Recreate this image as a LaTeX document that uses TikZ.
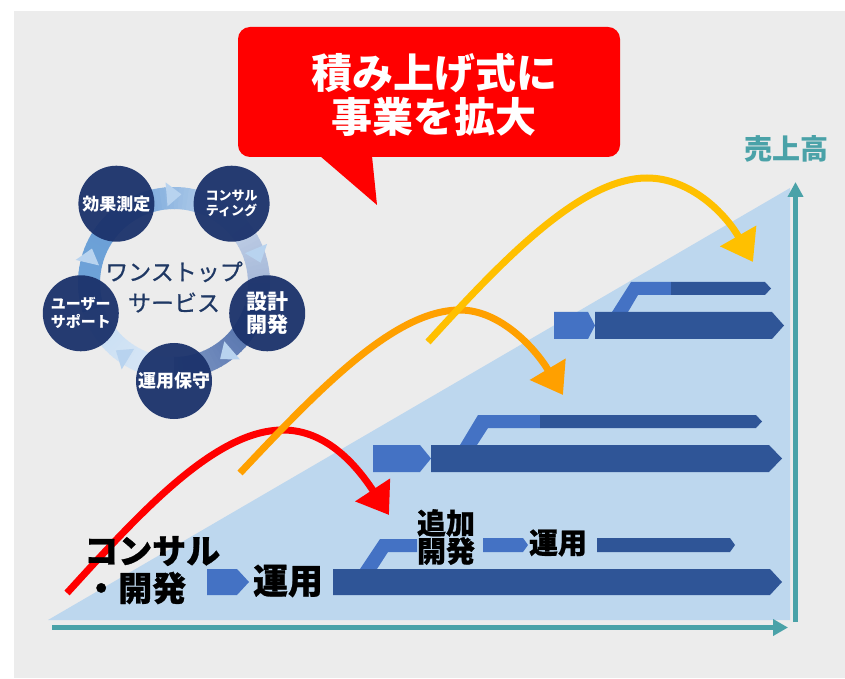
\documentclass[tikz,border=0pt]{standalone}
\usepackage{fontspec}
\setmainfont{Noto Sans CJK JP}
\usetikzlibrary{arrows.meta}
\definecolor{bgc}{HTML}{ECECEC}
\definecolor{tric}{HTML}{BDD7EE}
\definecolor{axisc}{HTML}{4AA2A8}
\definecolor{dkbar}{HTML}{2F5597}
\definecolor{mdbar}{HTML}{4472C4}
\definecolor{navyc}{HTML}{1B326B}
\definecolor{ctext}{HTML}{1F3864}
\definecolor{redc}{HTML}{FF0000}
\definecolor{orc}{HTML}{FFA000}
\definecolor{yec}{HTML}{FFC000}
\definecolor{arrc}{HTML}{B8D3EF}
\definecolor{rA}{HTML}{6A9ED6}
\definecolor{rB}{HTML}{C3D8EF}
\definecolor{rC}{HTML}{C8D6EA}
\definecolor{rD}{HTML}{9AAED3}
\definecolor{rE}{HTML}{4D6CA8}
\definecolor{rF}{HTML}{8099C6}
\definecolor{rG}{HTML}{DCE9F6}
\definecolor{rH}{HTML}{C4DCF2}
\definecolor{rI}{HTML}{6EA3D9}
\definecolor{rJ}{HTML}{6B9FD6}
\tikzset{
  curve/.style={line width=7pt},
  circ/.style={circle, fill=navyc, fill opacity=0.95, text opacity=1, minimum size=76pt, inner sep=0pt, text=white, align=center},
  blk/.style={text=black, inner sep=0pt, align=center},
}
\newcommand{\heavyfont}[1]{\bfseries\fontsize{#1}{#1}\selectfont\addfontfeature{FakeBold=0.8}}
\begin{document}
\begin{tikzpicture}[x=1pt,y=1pt]
\useasboundingbox (0,0) rectangle (845,678);
\fill[white] (0,0) rectangle (845,678);
\fill[bgc] (14,0) rectangle (845,667);
% sales triangle
\fill[tric] (48,58) -- (790,58) -- (790,490) -- cycle;
% axes
\coordinate (ho) at (52,50.5);
\coordinate (he) at (788,50.5);
\draw[axisc, line width=5pt, -{Triangle[length=15pt,width=16pt]}] (ho) -- (he);
\coordinate (vo) at (795.5,56);
\coordinate (ve) at (795.5,496);
\draw[axisc, line width=5pt, -{Triangle[length=15pt,width=15pt]}] (vo) -- (ve);
\node[text=axisc, font=\bfseries\fontsize{28}{30}\selectfont, inner sep=0pt] (uriage) at (786,529) {売上高};

% ---- bars bottom row
\fill[mdbar] (360,109) -- (377,109) -- (388,126) -- (417,126) -- (417,139) -- (380,139) -- cycle;
\fill[mdbar] (207,109) -- (237,109) -- (249,96) -- (237,83) -- (207,83) -- cycle;
\fill[dkbar] (333,109) -- (770,109) -- (782,96) -- (770,83) -- (333,83) -- cycle;
\fill[mdbar] (483,140) -- (523,140) -- (528,133) -- (523,126) -- (483,126) -- cycle;
\fill[dkbar] (597,140) -- (730,140) -- (735,133) -- (730,126) -- (597,126) -- cycle;
% ---- middle row
\fill[mdbar] (460,233) -- (477,233) -- (488,250) -- (540,250) -- (540,263) -- (478,263) -- cycle;
\fill[dkbar] (540,263) -- (756,263) -- (762,256.5) -- (756,250) -- (540,250) -- cycle;
\fill[mdbar] (373,233) -- (420,233) -- (431,219.5) -- (420,206) -- (373,206) -- cycle;
\fill[dkbar] (431,233) -- (769,233) -- (782,219.5) -- (769,206) -- (431,206) -- cycle;
% ---- top row
\fill[mdbar] (612,366) -- (628,366) -- (638,383) -- (671,383) -- (671,396) -- (631,396) -- cycle;
\fill[dkbar] (671,396) -- (765,396) -- (771,389.5) -- (765,383) -- (671,383) -- cycle;
\fill[mdbar] (554,366) -- (588,366) -- (595,352.5) -- (588,339) -- (554,339) -- cycle;
\fill[dkbar] (595,366) -- (772,366) -- (784,352.5) -- (772,339) -- (595,339) -- cycle;

% ---- growth arrows
\coordinate (r0) at (67,85);
\coordinate (r1) at (283,248);
\coordinate (r2) at (389,163);
\draw[redc, curve, -{Triangle[length=30pt,width=40pt]}] (r0) .. controls (140,165) and (215,248) .. (r1) .. controls (325,248) and (355,215) .. (r2);
\coordinate (o0) at (240,205);
\coordinate (o1) at (460,368);
\coordinate (o2) at (563,283);
\draw[orc, curve, -{Triangle[length=30pt,width=40pt]}] (o0) .. controls (320,290) and (395,368) .. (o1) .. controls (500,368) and (535,330) .. (o2);
\coordinate (y0) at (428,336);
\coordinate (y1) at (647,500);
\coordinate (y2) at (753,416);
\draw[yec, curve, -{Triangle[length=30pt,width=40pt]}] (y0) .. controls (500,415) and (580,500) .. (y1) .. controls (690,500) and (725,465) .. (y2);

% ---- labels in chart
\node[blk, anchor=west, font=\heavyfont{34}] (kon) at (84,127) {コンサル};
\node[blk, anchor=west, font=\heavyfont{34}] (kai) at (84,90) {・開発};
\node[blk, font=\heavyfont{35}] (unyo1) at (288,97) {運用};
\node[blk, font=\heavyfont{29}, align=center] (tsuika) at (446,141) {追加\\[-1pt]開発};
\node[blk, font=\heavyfont{29}] (unyo2) at (558,135) {運用};

% ---- speech bubble
\fill[redc, rounded corners=12pt] (238,521) rectangle (620,651);
\fill[redc] (320,522) -- (377,473) -- (372,522) -- cycle;
\node[text=white, font=\bfseries\fontsize{41}{44}\selectfont, align=center, inner sep=0pt] (title) at (434,583) {積み上げ式に\\事業を拡大};

% ---- cycle diagram
\begin{scope}[shift={(174,395)}]
  \foreach \s/\e/\ca/\cb in {126/54/rA/rB, 54/-18/rC/rD, -18/-90/rE/rF, -90/-162/rG/rH, 198/126/rI/rJ}{
    \foreach \i in {0,...,23}{
      \pgfmathsetmacro\aa{\s+(\e-\s)*\i/24}
      \pgfmathsetmacro\bb{\s+(\e-\s)*(\i+1.2)/24}
      \pgfmathtruncatemacro\pp{100*(\i+0.5)/24}
      \fill[\cb!\pp!\ca] (\aa:74pt) arc[start angle=\aa, end angle=\bb, radius=74pt] -- (\bb:96pt) arc[start angle=\bb, end angle=\aa, radius=96pt] -- cycle;
    }
  }
  \foreach \t in {90,18,-54,-126,162}{
    \fill[arrc] ({\t+4.8}:77pt) -- ({\t+4.8}:101pt) -- ({\t-4.8}:89pt) -- cycle;
  }
  \node[text=ctext, font=\fontsize{23}{31}\selectfont\addfontfeature{FakeBold=0.6}, align=center, inner sep=0pt] (onestop) at (0,-4) {ワンストップ\\サービス};
  \node[circ, font=\bfseries\fontsize{17}{19}\selectfont] (kouka) at (126:98pt) {効果測定};
  \node[circ, font=\bfseries\fontsize{13}{15}\selectfont] (consul) at (54:98pt) {コンサル\\ティング};
  \node[circ, font=\bfseries\fontsize{21}{23}\selectfont] (sekkei) at (-18:98pt) {設計\\開発};
  \node[circ, font=\bfseries\fontsize{18}{20}\selectfont] (hoshu) at (-90:98pt) {運用保守};
  \node[circ, font=\bfseries\fontsize{15}{18}\selectfont] (user) at (198:98pt) {ユーザー\\サポート};
\end{scope}
\end{tikzpicture}
\end{document}
